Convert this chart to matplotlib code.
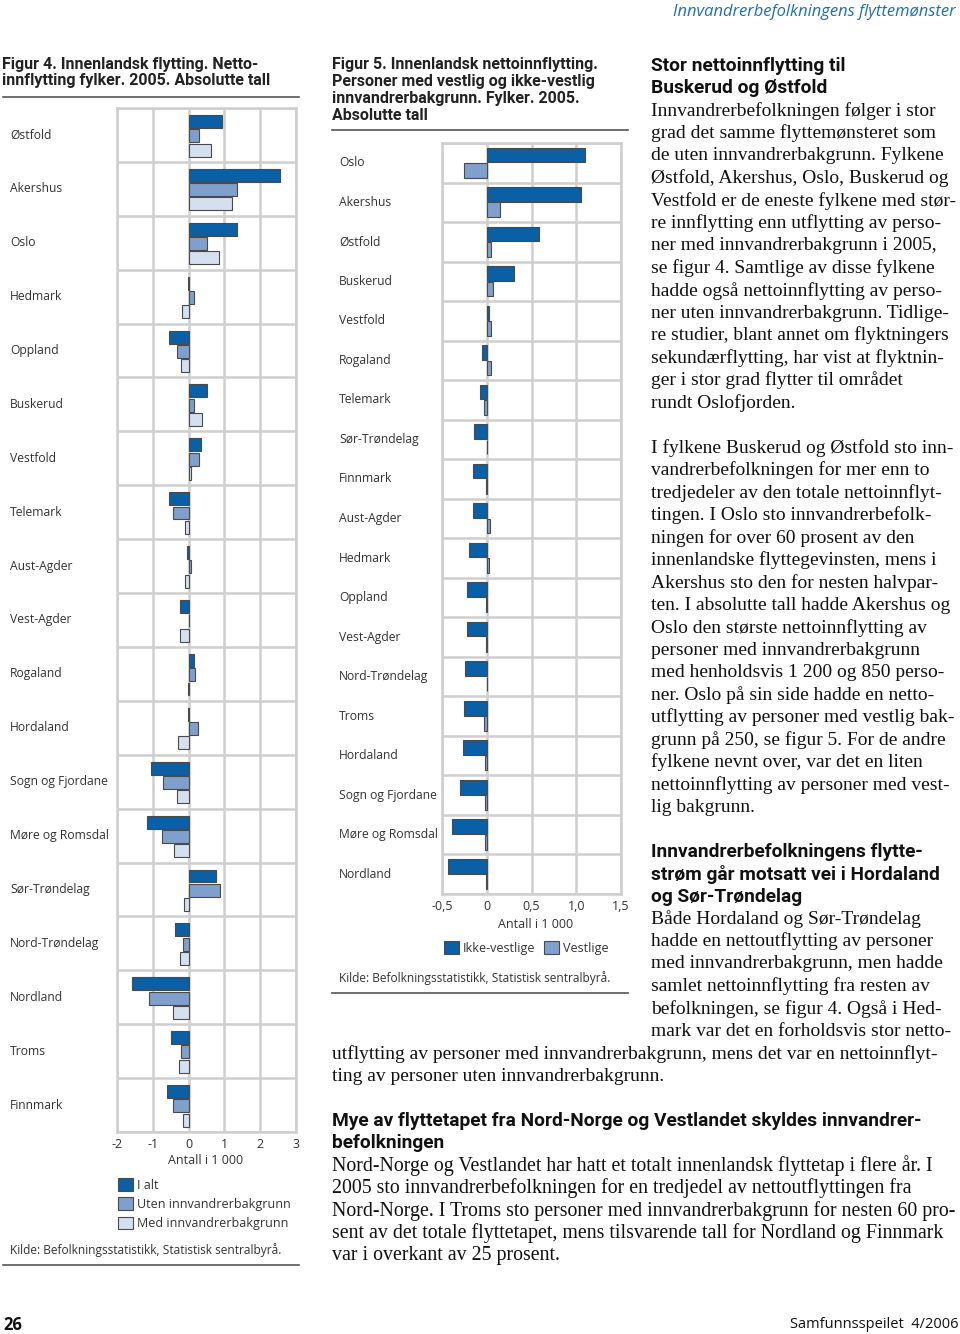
import matplotlib
matplotlib.use('Agg')
import matplotlib.pyplot as plt
from matplotlib import font_manager
from matplotlib.lines import Line2D
from matplotlib.transforms import blended_transform_factory
import numpy as np

# ---------------- data ----------------
cats4 = ['Østfold', 'Akershus', 'Oslo', 'Hedmark', 'Oppland', 'Buskerud', 'Vestfold',
         'Telemark', 'Aust-Agder', 'Vest-Agder', 'Rogaland', 'Hordaland',
         'Sogn og Fjordane', 'Møre og Romsdal', 'Sør-Trøndelag', 'Nord-Trøndelag',
         'Nordland', 'Troms', 'Finnmark']
i_alt = [0.93, 2.56, 1.36, -0.02, -0.54, 0.51, 0.36, -0.54, -0.05, -0.23, 0.16, -0.03,
         -1.05, -1.15, 0.76, -0.39, -1.57, -0.49, -0.59]
uten = [0.30, 1.36, 0.51, 0.15, -0.33, 0.15, 0.30, -0.44, 0.07, 0.00, 0.18, 0.27,
        -0.72, -0.74, 0.89, -0.15, -1.12, -0.20, -0.44]
med = [0.63, 1.21, 0.85, -0.18, -0.22, 0.37, 0.07, -0.10, -0.11, -0.23, -0.01, -0.30,
       -0.33, -0.41, -0.13, -0.24, -0.44, -0.28, -0.16]
ticks4 = [-2, -1, 0, 1, 2, 3]
ticklabels4 = ['-2', '-1', '0', '1', '2', '3']
legend4 = ['I alt', 'Uten innvandrerbakgrunn', 'Med innvandrerbakgrunn']

cats5 = ['Oslo', 'Akershus', 'Østfold', 'Buskerud', 'Vestfold', 'Rogaland', 'Telemark',
         'Sør-Trøndelag', 'Finnmark', 'Aust-Agder', 'Hedmark', 'Oppland', 'Vest-Agder',
         'Nord-Trøndelag', 'Troms', 'Hordaland', 'Sogn og Fjordane', 'Møre og Romsdal',
         'Nordland']
ikke_vestlige = [1.10, 1.05, 0.58, 0.30, 0.02, -0.055, -0.07, -0.145, -0.15, -0.155,
                 -0.195, -0.22, -0.225, -0.24, -0.255, -0.27, -0.30, -0.39, -0.43]
vestlige = [-0.25, 0.15, 0.045, 0.065, 0.045, 0.045, -0.035, 0.004, -0.004, 0.04, 0.02,
            -0.004, -0.004, 0.0, -0.03, -0.02, -0.025, -0.025, -0.004]
ticks5 = [-0.5, 0, 0.5, 1.0, 1.5]
ticklabels5 = ['-0,5', '0', '0,5', '1,0', '1,5']
legend5 = ['Ikke-vestlige', 'Vestlige']

# ---------------- setup ----------------
W, H = 960, 1334
fig = plt.figure(figsize=(9.6, 13.34), dpi=100)
fig.patch.set_facecolor('white')

avail = {f.name for f in font_manager.fontManager.ttflist}
def pick(*names):
    for n in names:
        if n in avail:
            return n
    return 'DejaVu Sans'

SANS = pick('Open Sans', 'Noto Sans', 'DejaVu Sans')
TITLE = pick('Roboto', 'Liberation Sans', 'DejaVu Sans')
HEAD = pick('Roboto', 'Open Sans', 'DejaVu Sans')
SERIF = pick('Liberation Serif', 'DejaVu Serif')

TXT = '#222222'
LAB = '#333333'
C_ALT = '#0b5fa5'
C_UTEN = '#7f9fcc'
C_MED = '#d4dff0'
EDGE = '#4a4a4a'
GRID = '#cfcfcf'

def fx(x):
    return x / W

def fy(y):
    return 1 - y / H

def T(x, y, s, **kw):
    kw.setdefault('va', 'center')
    kw.setdefault('ha', 'left')
    fig.text(fx(x), fy(y), s, **kw)

def hline(x0, x1, y, color='#555555', lw=1.2):
    fig.add_artist(Line2D([fx(x0), fx(x1)], [fy(y), fy(y)], color=color, lw=lw,
                          transform=fig.transFigure))

def style_axes(ax, n, ticks, labels):
    ax.set_ylim(n, 0)
    ax.set_xticks(ticks)
    ax.set_xticklabels(labels, fontfamily=SANS, fontsize=9, color=LAB)
    ax.set_yticks([])
    ax.set_yticks(np.arange(n + 1), minor=True)
    ax.tick_params(axis='both', which='both', length=0, pad=4)
    ax.grid(axis='x', which='major', color=GRID, lw=1.8)
    ax.grid(axis='y', which='minor', color=GRID, lw=1.8)
    ax.set_axisbelow(True)
    for sp in ax.spines.values():
        sp.set_color(GRID)
        sp.set_linewidth(1.8)

# ---------------- Figure 4 ----------------
ax4 = fig.add_axes([fx(117), fy(1132), (296 - 117) / W, (1132 - 108) / H])
n4 = len(cats4)
pos = np.arange(n4) + 0.515
bh = 0.24
b1 = ax4.barh(pos - 0.265, i_alt, height=bh, color=C_ALT, edgecolor=EDGE, lw=0.8, label=legend4[0])
b2 = ax4.barh(pos, uten, height=bh, color=C_UTEN, edgecolor=EDGE, lw=0.8, label=legend4[1])
b3 = ax4.barh(pos + 0.265, med, height=bh, color=C_MED, edgecolor=EDGE, lw=0.8, label=legend4[2])
ax4.set_xlim(-2, 3)
style_axes(ax4, n4, ticks4, ticklabels4)
tr4 = blended_transform_factory(fig.transFigure, ax4.transData)
for i, c in enumerate(cats4):
    ax4.text(fx(10), i + 0.5, c, transform=tr4, ha='left', va='center',
             fontfamily=SANS, fontsize=8.7, color=LAB)
T(206, 1161, 'Antall i 1 000', ha='center', fontfamily=SANS, fontsize=9, color=LAB)
ax4.legend(handles=[b1, b2, b3], loc='upper left', bbox_to_anchor=(fx(118), fy(1178)),
           bbox_transform=fig.transFigure, frameon=False, prop={'family': SANS, 'size': 9},
           handlelength=1.2, handleheight=1.2, labelspacing=0.45, handletextpad=0.35,
           borderpad=0, borderaxespad=0, labelcolor=LAB)

T(2, 65, 'Figur 4. Innenlandsk flytting. Netto-', fontfamily=TITLE, fontsize=11.5,
  fontweight='bold', color=TXT)
T(2, 81, 'innflytting fylker. 2005. Absolutte tall', fontfamily=TITLE, fontsize=11.5,
  fontweight='bold', color=TXT)
hline(3, 299, 97)
T(10, 1250, 'Kilde: Befolkningsstatistikk, Statistisk sentralbyrå.', fontfamily=SANS,
  fontsize=8.6, color=LAB)
hline(3, 299, 1265)

# ---------------- Figure 5 ----------------
ax5 = fig.add_axes([fx(442), fy(894), (621 - 442) / W, (894 - 143) / H])
n5 = len(cats5)
slot = np.arange(n5)
bh5 = 0.37
c1 = ax5.barh(slot + 0.30, ikke_vestlige, height=bh5, color=C_ALT, edgecolor=EDGE, lw=0.8,
              label=legend5[0])
c2 = ax5.barh(slot + 0.69, vestlige, height=bh5, color=C_UTEN, edgecolor=EDGE, lw=0.8,
              label=legend5[1])
ax5.set_xlim(-0.5, 1.5)
style_axes(ax5, n5, ticks5, ticklabels5)
tr5 = blended_transform_factory(fig.transFigure, ax5.transData)
for i, c in enumerate(cats5):
    ax5.text(fx(339), i + 0.5, c, transform=tr5, ha='left', va='center',
             fontfamily=SANS, fontsize=8.7, color=LAB)
T(536, 924, 'Antall i 1 000', ha='center', fontfamily=SANS, fontsize=9, color=LAB)
ax5.legend(handles=[c1, c2], loc='center left', bbox_to_anchor=(fx(444), fy(948)),
           bbox_transform=fig.transFigure, frameon=False, ncol=2,
           prop={'family': SANS, 'size': 9}, handlelength=1.2, handleheight=1.2,
           handletextpad=0.3, columnspacing=0.7, borderpad=0, borderaxespad=0,
           labelcolor=LAB)

for k, s in enumerate(['Figur 5. Innenlandsk nettoinnflytting.',
                       'Personer med vestlig og ikke-vestlig',
                       'innvandrerbakgrunn. Fylker. 2005.',
                       'Absolutte tall']):
    T(332, 65 + k * 16.7, s, fontfamily=TITLE, fontsize=11.5, fontweight='bold', color=TXT)
hline(332, 628, 130)
T(339, 978, 'Kilde: Befolkningsstatistikk, Statistisk sentralbyrå.', fontfamily=SANS,
  fontsize=8.6, color=LAB)
hline(332, 628, 993)

# ---------------- page text ----------------
T(956, 12, 'Innvandrerbefolkningens flyttemønster', ha='right', fontfamily=SANS,
  fontsize=11.9, style='italic', color='#1f6db3')
T(3, 1325, '26', fontfamily=SANS, fontsize=12, fontweight='bold', color='#111111')
T(958, 1325, 'Samfunnsspeilet  4/2006', ha='right', fontfamily=SANS, fontsize=10.5,
  color='#111111')

HS = 13.8
BS = 14.0
BS_WIDE = 14.3
LS = 22.45

def head(x, y, lines):
    for k, s in enumerate(lines):
        T(x, y + k * LS, s, fontfamily=HEAD, fontsize=HS, fontweight='bold', color='#111111')

def body(x, y, lines, size=BS):
    for k, s in enumerate(lines):
        T(x, y + k * LS, s, fontfamily=SERIF, fontsize=size, color='#111111')

head(651, 66, ['Stor nettoinnflytting til', 'Buskerud og Østfold'])
body(651, 111, [
    'Innvandrerbefolkningen følger i stor',
    'grad det samme flyttemønsteret som',
    'de uten innvandrerbakgrunn. Fylkene',
    'Østfold, Akershus, Oslo, Buskerud og',
    'Vestfold er de eneste fylkene med stør-',
    're innflytting enn utflytting av perso-',
    'ner med innvandrerbakgrunn i 2005,',
    'se figur 4. Samtlige av disse fylkene',
    'hadde også nettoinnflytting av perso-',
    'ner uten innvandrerbakgrunn. Tidlige-',
    're studier, blant annet om flyktningers',
    'sekundærflytting, har vist at flyktnin-',
    'ger i stor grad flytter til området',
    'rundt Oslofjorden.'])
body(651, 448, [
    'I fylkene Buskerud og Østfold sto inn-',
    'vandrerbefolkningen for mer enn to',
    'tredjedeler av den totale nettoinnflyt-',
    'tingen. I Oslo sto innvandrerbefolk-',
    'ningen for over 60 prosent av den',
    'innenlandske flyttegevinsten, mens i',
    'Akershus sto den for nesten halvpar-',
    'ten. I absolutte tall hadde Akershus og',
    'Oslo den største nettoinnflytting av',
    'personer med innvandrerbakgrunn',
    'med henholdsvis 1 200 og 850 perso-',
    'ner. Oslo på sin side hadde en netto-',
    'utflytting av personer med vestlig bak-',
    'grunn på 250, se figur 5. For de andre',
    'fylkene nevnt over, var det en liten',
    'nettoinnflytting av personer med vest-',
    'lig bakgrunn.'])
head(651, 852, ['Innvandrerbefolkningens flytte-',
                'strøm går motsatt vei i Hordaland',
                'og Sør-Trøndelag'])
body(651, 919, [
    'Både Hordaland og Sør-Trøndelag',
    'hadde en nettoutflytting av personer',
    'med innvandrerbakgrunn, men hadde',
    'samlet nettoinnflytting fra resten av',
    'befolkningen, se figur 4. Også i Hed-',
    'mark var det en forholdsvis stor netto-'])
body(332, 1054, [
    'utflytting av personer med innvandrerbakgrunn, mens det var en nettoinnflyt-',
    'ting av personer uten innvandrerbakgrunn.'], size=BS)
head(332, 1121, ['Mye av flyttetapet fra Nord-Norge og Vestlandet skyldes innvandrer-',
                 'befolkningen'])
body(332, 1166, [
    'Nord-Norge og Vestlandet har hatt et totalt innenlandsk flyttetap i flere år. I',
    '2005 sto innvandrerbefolkningen for en tredjedel av nettoutflyttingen fra',
    'Nord-Norge. I Troms sto personer med innvandrerbakgrunn for nesten 60 pro-',
    'sent av det totale flyttetapet, mens tilsvarende tall for Nordland og Finnmark',
    'var i overkant av 25 prosent.'], size=BS_WIDE)

fig.savefig('out.png', dpi=100, facecolor='white')
